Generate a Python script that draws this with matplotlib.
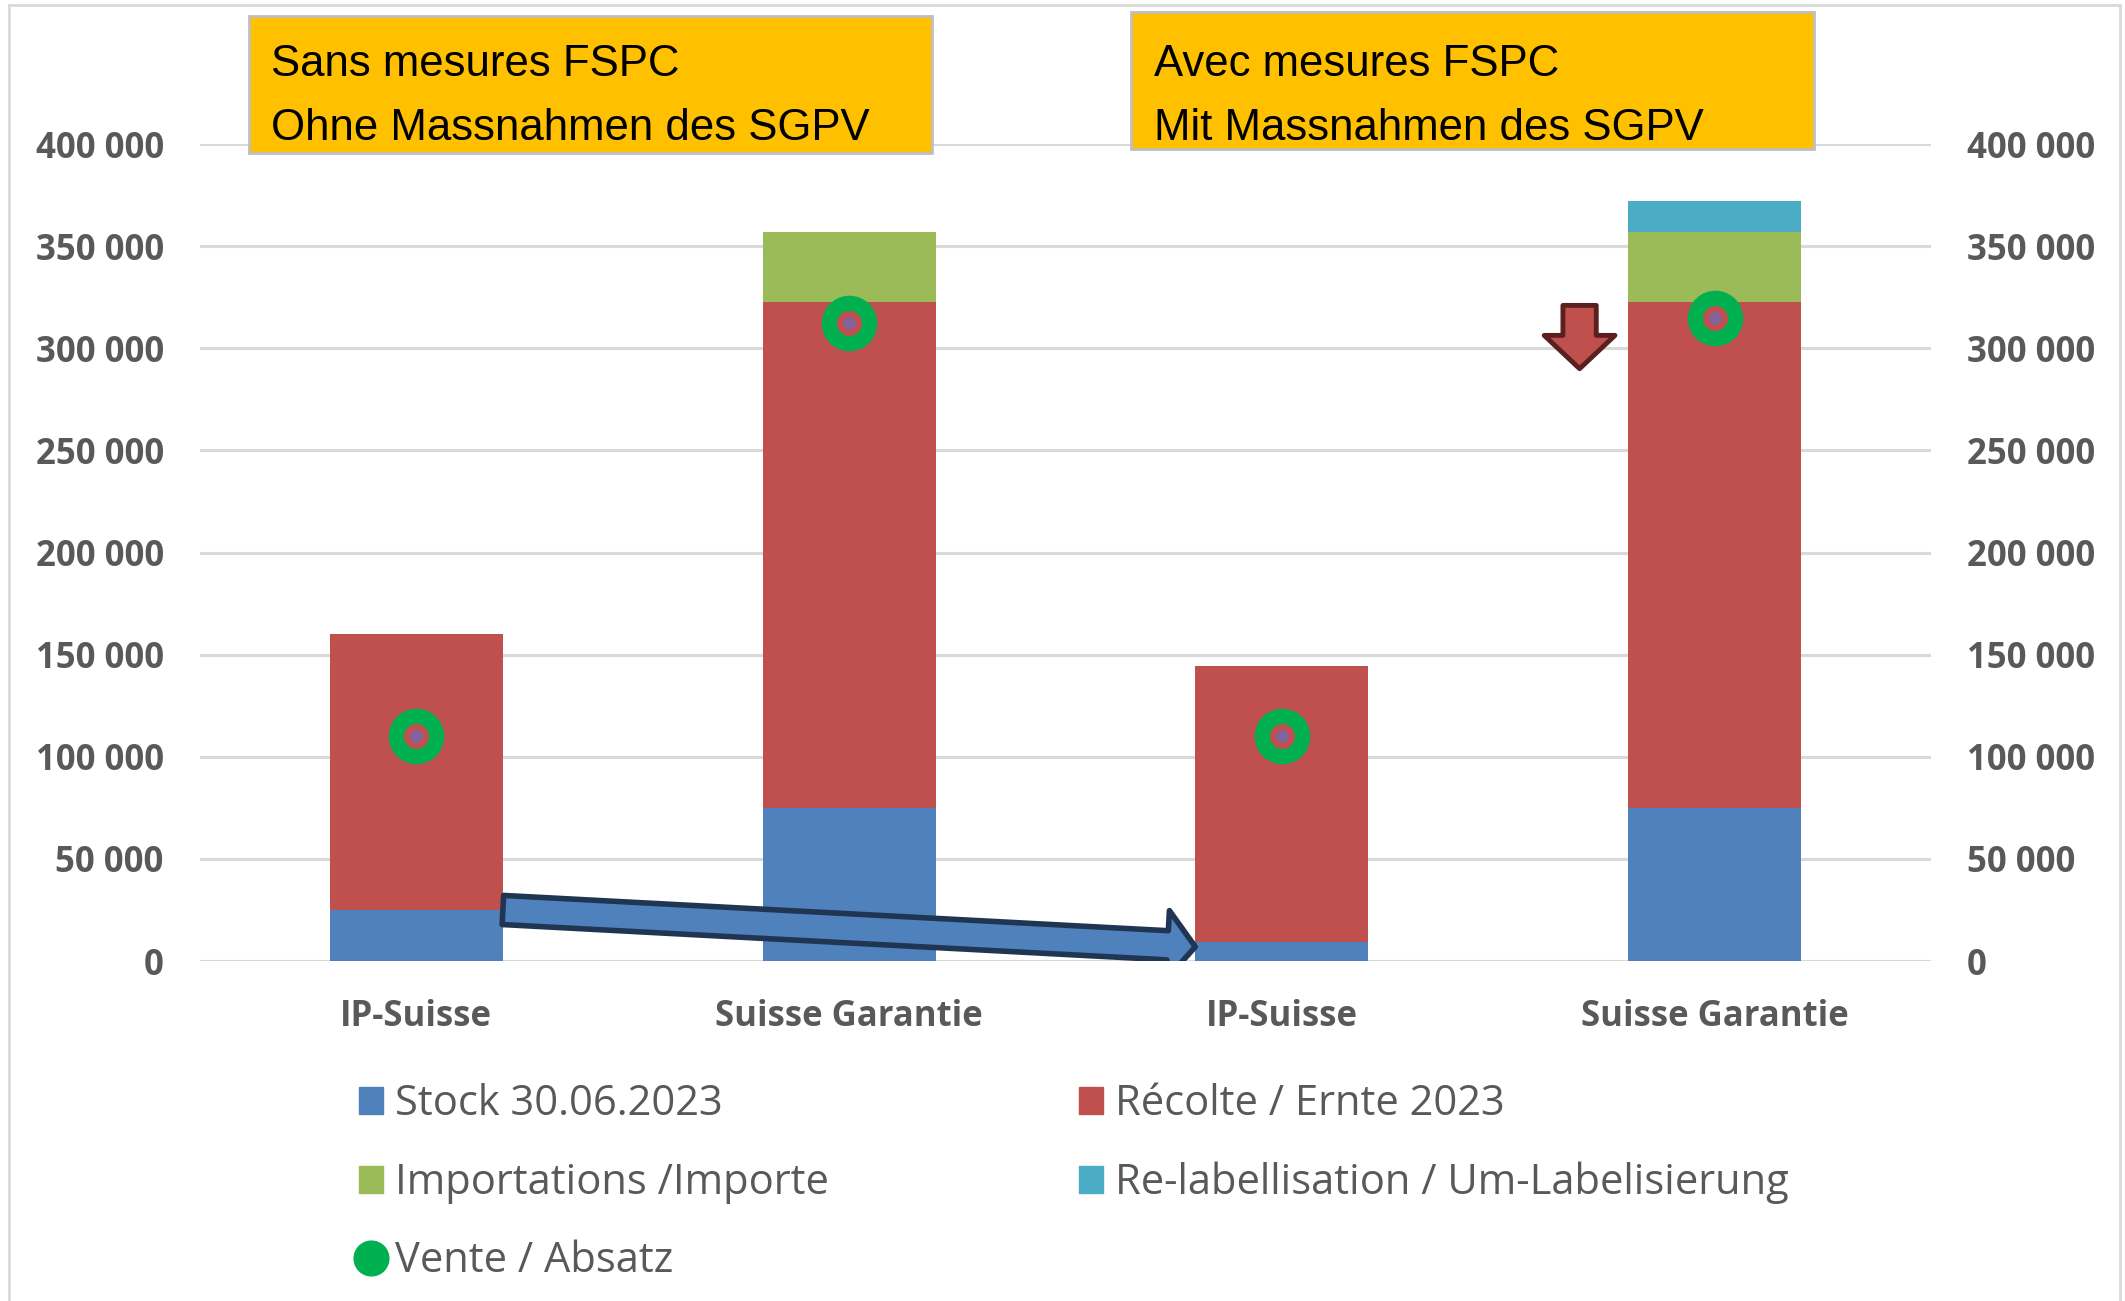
import numpy as np
import matplotlib.pyplot as plt
from matplotlib.patches import Rectangle, FancyArrowPatch, Patch
from matplotlib.lines import Line2D
from matplotlib.ticker import FuncFormatter

# données (quintaux)
categories = ['IP-Suisse', 'Suisse Garantie', 'IP-Suisse', 'Suisse Garantie']
stock = [25000, 75000, 9500, 75000]
recolte = [135000, 247500, 135000, 247500]
importations = [0, 34500, 0, 34500]
relabel = [0, 0, 0, 15000]
vente = [110000, 312500, 110000, 315000]

labels = ['Stock 30.06.2023', 'Récolte / Ernte 2023', 'Importations /Importe',
          'Re-labellisation / Um-Labelisierung', 'Vente / Absatz']
box_titles = ['Sans mesures FSPC\nOhne Massnahmen des SGPV',
              'Avec mesures FSPC\nMit Massnahmen des SGPV']

c_stock = '#4F81BD'
c_rec = '#C0504D'
c_imp = '#9BBB59'
c_rel = '#4BACC6'
c_vente = '#00B050'
c_dot = '#8064A2'
c_txt = '#595959'
c_grid = '#D9D9D9'

plt.rcParams['font.family'] = ['Open Sans', 'DejaVu Sans']

fig = plt.figure(figsize=(21.25, 13.01), dpi=100)
ax = fig.add_axes([0.0941, 0.2613, 0.9087 - 0.0941, 0.8893 - 0.2613])

x = np.arange(len(categories))
w = 0.4
b1 = np.array(stock)
b2 = b1 + np.array(recolte)
b3 = b2 + np.array(importations)
ax.bar(x, stock, w, color=c_stock, zorder=2)
ax.bar(x, recolte, w, bottom=b1, color=c_rec, zorder=2)
ax.bar(x, importations, w, bottom=b2, color=c_imp, zorder=2)
ax.bar(x, relabel, w, bottom=b3, color=c_rel, zorder=2)

# marqueurs vente: anneau vert + point violet
ax.plot(x, vente, 'o', ms=29, mfc='none', mec=c_vente, mew=11, zorder=4)
ax.plot(x, vente, 'o', ms=9, color=c_dot, mew=0, zorder=5)

ax.set_xlim(-0.5, 3.5)
ax.set_ylim(0, 400000)
ax.set_yticks(np.arange(0, 400001, 50000))
ax.yaxis.set_major_formatter(FuncFormatter(lambda v, p: f'{int(v):,}'.replace(',', ' ')))
ax.set_xticks(x)
ax.set_xticklabels(categories)
ax.tick_params(axis='y', length=0, pad=26, labelsize=25, labelcolor=c_txt,
               labelright=True)
ax.tick_params(axis='x', length=0, pad=27, labelsize=25, labelcolor=c_txt)
fig.canvas.draw()
for t in ax.get_xticklabels() + ax.yaxis.get_ticklabels() + [tk.label2 for tk in ax.yaxis.get_major_ticks()]:
    t.set_fontweight('bold')
ax.grid(axis='y', color=c_grid, lw=2.2, zorder=0)
ax.set_axisbelow(True)
for s in ax.spines.values():
    s.set_visible(False)

# flèche bleue (stock IP-Suisse)
arr = FancyArrowPatch(posA=(0.2, 25000), posB=(1.8, 7000),
                      arrowstyle='simple,head_length=20,head_width=50,tail_width=21',
                      shrinkA=0, shrinkB=0, fc=c_stock, ec='#1F3552', lw=4, zorder=6)
ax.add_patch(arr)
# flèche rouge vers le bas
arr2 = FancyArrowPatch(posA=(2.688, 321000), posB=(2.688, 290000),
                       arrowstyle='simple,head_length=24,head_width=51,tail_width=24',
                       shrinkA=0, shrinkB=0, fc=c_rec, ec='#5B1F1F', lw=3.5, zorder=6)
ax.add_patch(arr2)

# encadrés orange
W, H = 2125, 1301
for (x0, y0, x1, y1, tx), title in zip([(249, 16, 932, 153, 271), (1131, 12, 1814, 149, 1154)], box_titles):
    fig.add_artist(Rectangle((x0 / W, 1 - y1 / H), (x1 - x0) / W, (y1 - y0) / H,
                             transform=fig.transFigure, fc='#FFC000', ec='#BFBFBF', lw=2, zorder=5))
    l1, l2 = title.split('\n')
    for line, yb in [(l1, 76), (l2, 140)]:
        fig.text(tx / W, 1 - yb / H, line, fontsize=31.5, va='baseline', ha='left',
                 family=['Liberation Sans', 'DejaVu Sans'], color='black', zorder=6)

# légende
handles = [Patch(color=c_stock), Patch(color=c_imp),
           Line2D([], [], marker='o', ls='none', ms=25, color=c_vente),
           Patch(color=c_rec), Patch(color=c_rel)]
hl = [labels[0], labels[2], labels[4], labels[1], labels[3]]
fig.legend(handles, hl, loc='upper left', bbox_to_anchor=(359 / W, 1 - 1083 / H),
           ncol=2, frameon=False, fontsize=30, labelcolor=c_txt, borderpad=0,
           borderaxespad=0, handlelength=0.58, handleheight=0.62, handletextpad=0.29,
           labelspacing=0.88, columnspacing=6.0)

# cadre
fig.add_artist(Rectangle((0.004, -0.01), 0.9935, 1.006, transform=fig.transFigure,
                         fc='none', ec=c_grid, lw=2))

fig.savefig('out.png', dpi=100)
